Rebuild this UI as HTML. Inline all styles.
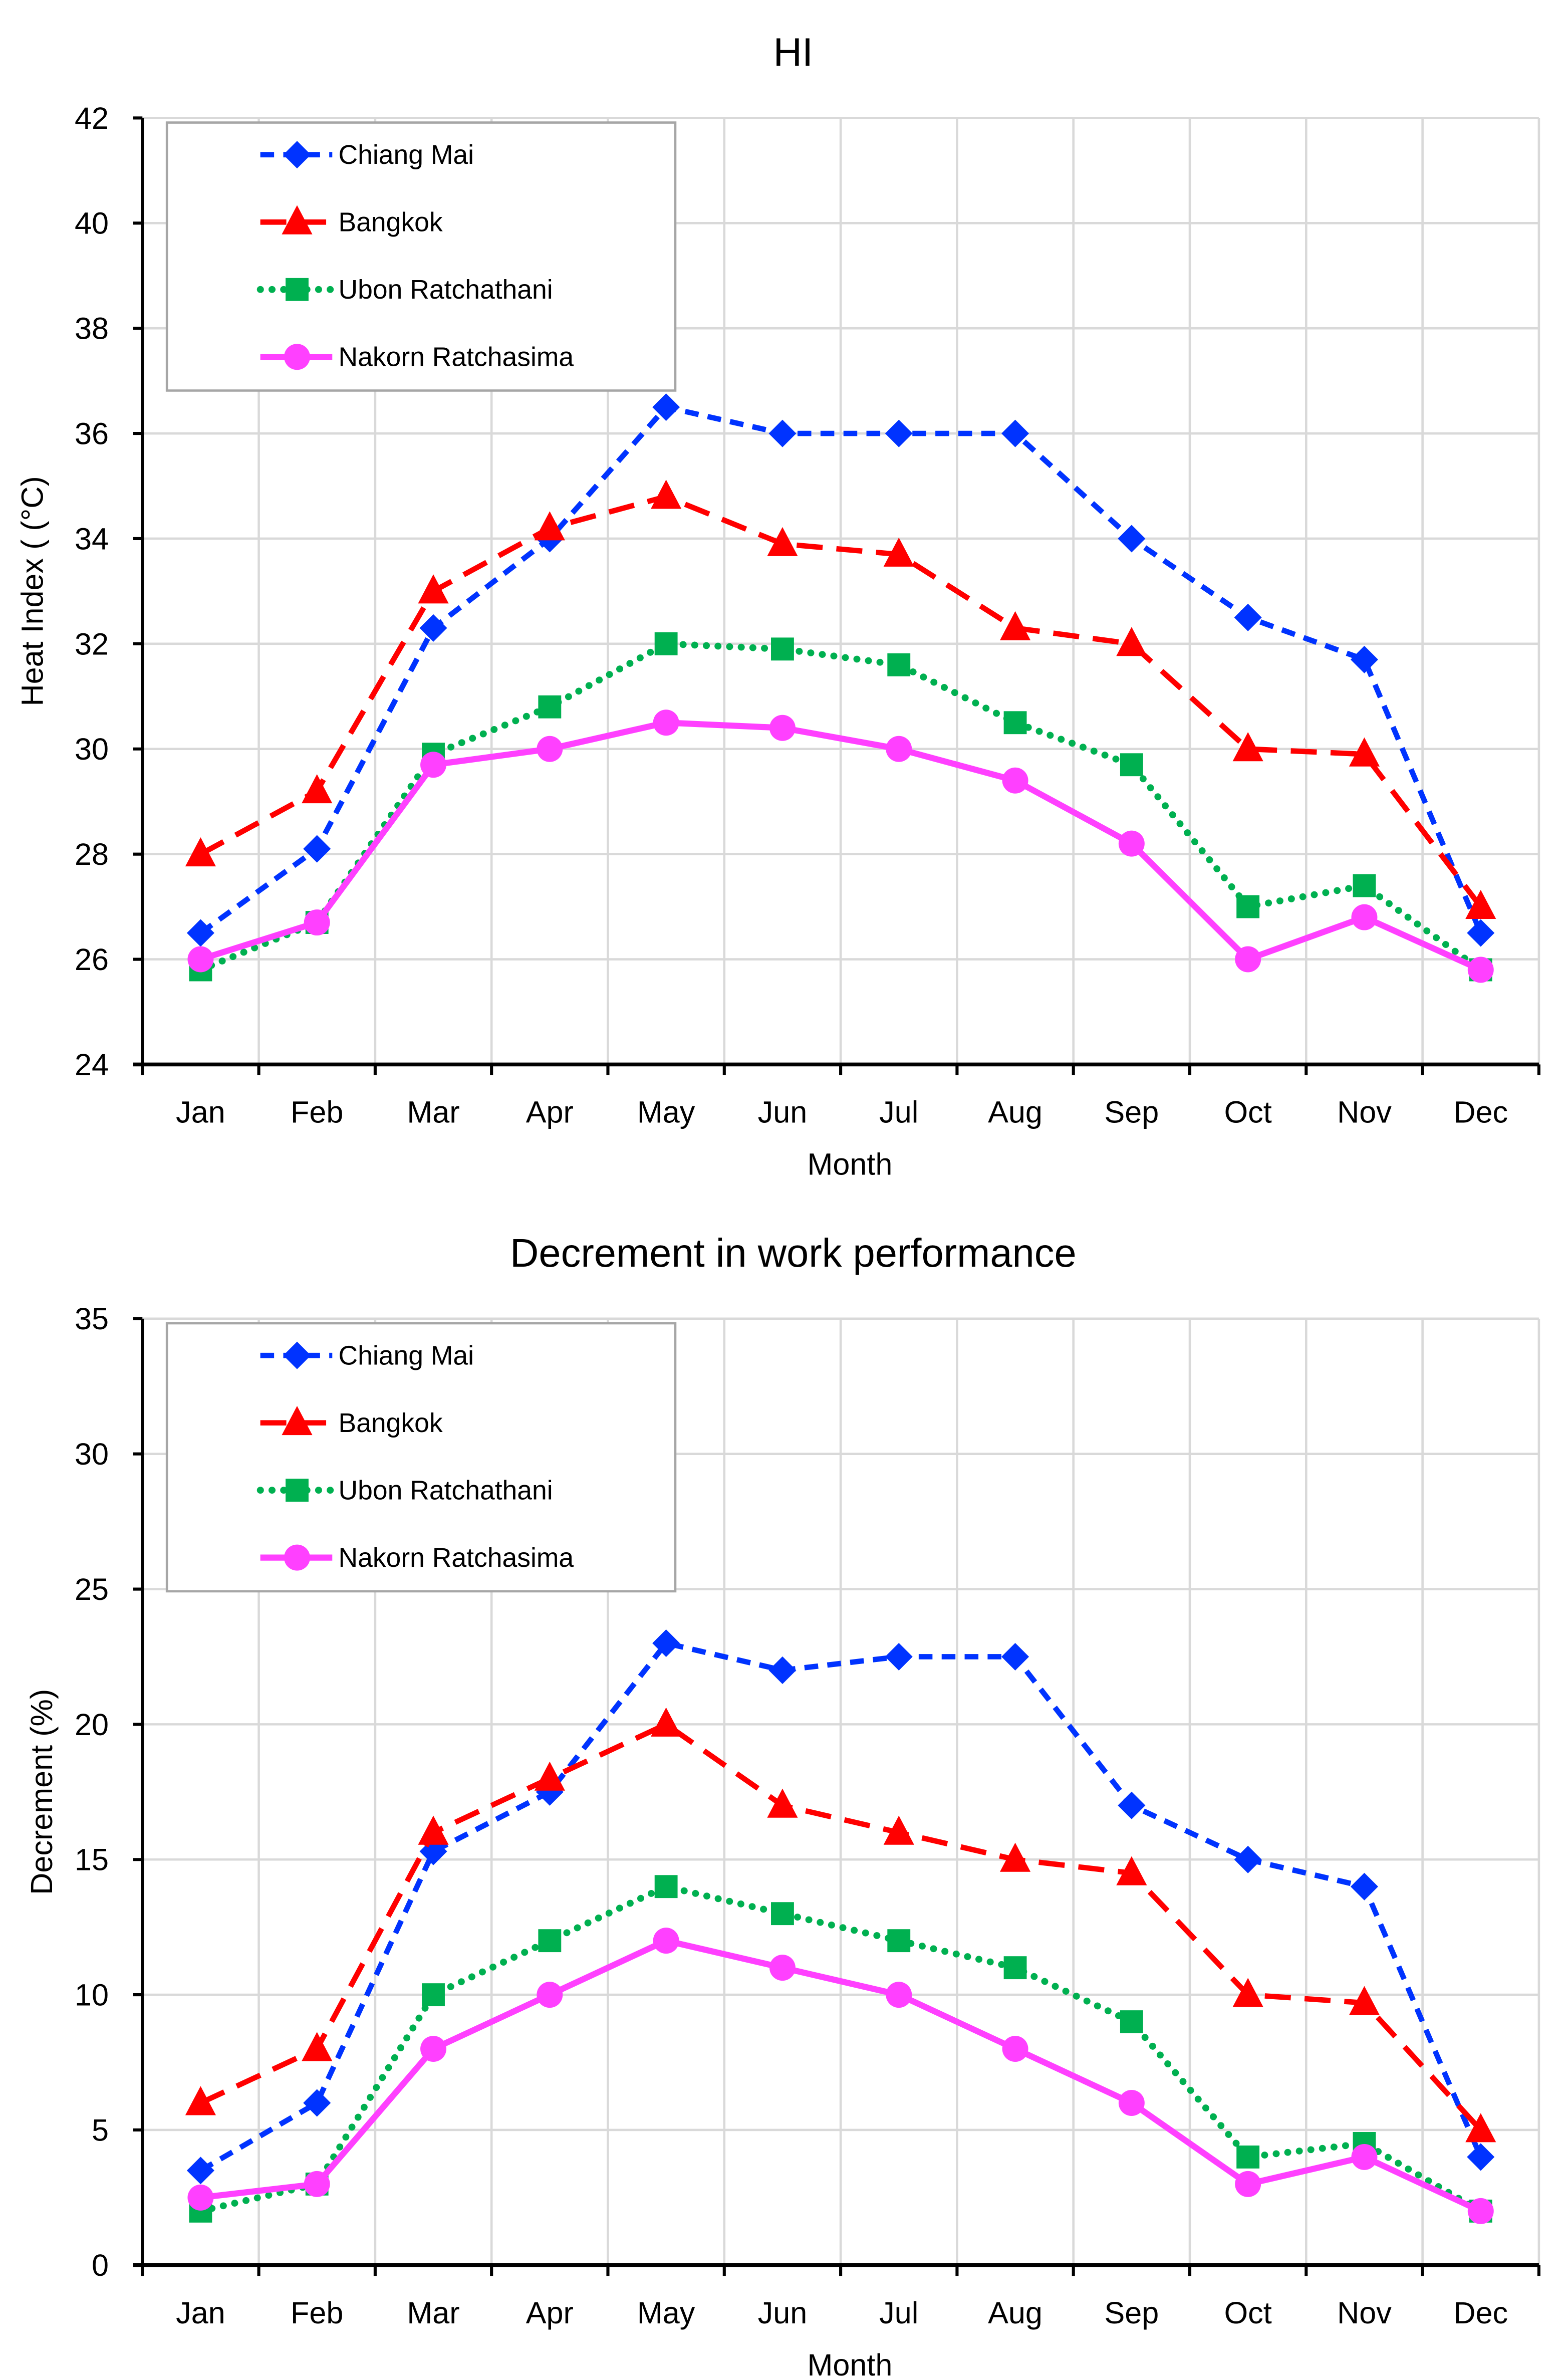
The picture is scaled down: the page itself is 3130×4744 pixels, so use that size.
<!DOCTYPE html>
<html><head><meta charset="utf-8"><style>
html,body{margin:0;padding:0;background:#fff}
svg{display:block}
text{font-family:"Liberation Sans",sans-serif;fill:#000}
</style></head><body>
<svg id="root" width="3130" height="4744" viewBox="0 0 1024 1552" xmlns="http://www.w3.org/2000/svg">
<rect width="1024" height="1552" fill="#fff"/>
</svg>
<script>
const months = ['Jan','Feb','Mar','Apr','May','Jun','Jul','Aug','Sep','Oct','Nov','Dec'];
const seriesNames = ['Chiang Mai','Bangkok','Ubon Ratchathani','Nakorn Ratchasima'];
const hiChiangMai = [26.5,28.1,32.3,34,36.5,36,36,36,34,32.5,31.7,26.5];
const hiBangkok = [28,29.2,33,34.2,34.8,33.9,33.7,32.3,32,30,29.9,27];
const hiUbon = [25.8,26.7,29.9,30.8,32,31.9,31.6,30.5,29.7,27,27.4,25.8];
const hiNakorn = [26,26.7,29.7,30,30.5,30.4,30,29.4,28.2,26,26.8,25.8];
const decChiangMai = [3.5,6,15.3,17.5,23,22,22.5,22.5,17,15,14,4];
const decBangkok = [6,8,16,18,20,17,16,15,14.5,10,9.7,5];
const decUbon = [2,3,10,12,14,13,12,11,9,4,4.5,2];
const decNakorn = [2.5,3,8,10,12,11,10,8,6,3,4,2];
const hiTicks = [24,26,28,30,32,34,36,38,40,42];
const decTicks = [0,5,10,15,20,25,30,35];

const NS='http://www.w3.org/2000/svg';
const root=document.getElementById('root');
function mk(tag,attrs,parent){const e=document.createElementNS(NS,tag);for(const k in attrs)e.setAttribute(k,attrs[k]);(parent||root).appendChild(e);return e;}

const styles=[
 {color:'#0033ff',dash:'9,6',cap:'butt',w:3.5,marker:'diamond'},
 {color:'#ff0000',dash:'17,9',cap:'butt',w:3.5,marker:'triangle'},
 {color:'#00b050',dash:'0.1,7.5',cap:'round',w:4.5,marker:'square'},
 {color:'#ff40ff',dash:'',cap:'butt',w:4,marker:'circle'}
];

function marker(g,type,x,y,color){
  let e;
  if(type==='diamond') e=mk('polygon',{points:`${x},${y-9} ${x+9},${y} ${x},${y+9} ${x-9},${y}`,fill:color},g);
  else if(type==='triangle') e=mk('polygon',{points:`${x},${y-11} ${x+10},${y+8} ${x-10},${y+8}`,fill:color},g);
  else if(type==='square') e=mk('rect',{x:x-7.5,y:y-7.5,width:15,height:15,fill:color},g);
  else e=mk('circle',{cx:x,cy:y,r:8.5,fill:color},g);
  return e;
}

function chart(cfg){
  const L=93,R=1005,T=cfg.top,B=cfg.bottom;
  const step=(R-L)/months.length;
  const xs=i=>L+step*(i+0.5);
  const ymin=cfg.ticks[0],ymax=cfg.ticks[cfg.ticks.length-1];
  const ys=v=>B-(v-ymin)/(ymax-ymin)*(B-T);
  const g=mk('g',{});
  
  
  cfg.ticks.forEach(t=>{ if(t!==ymin){const l=mk('line',{x1:L,x2:R,y1:ys(t),y2:ys(t),stroke:'#d9d9d9','stroke-width':1.5},g);
    
    }});
  for(let i=1;i<=months.length;i++){const x=L+step*i;const l=mk('line',{x1:x,x2:x,y1:T,y2:B,stroke:'#d9d9d9','stroke-width':1.5},g);
    
    }
  const ya=mk('line',{x1:L,x2:L,y1:T,y2:B,stroke:'#000','stroke-width':2},g);
  
  
  const xa=mk('line',{x1:L-6,x2:R,y1:B,y2:B,stroke:'#000','stroke-width':2.5},g);
  
  
  cfg.ticks.forEach(t=>{
    mk('line',{x1:L-6,x2:L,y1:ys(t),y2:ys(t),stroke:'#000','stroke-width':2},g);
    const tx=mk('text',{x:L-22,y:ys(t)+7,'text-anchor':'end','font-size':20},g);
    tx.textContent=t;
    
    
  });
  for(let i=0;i<=months.length;i++){const x=L+step*i;mk('line',{x1:x,x2:x,y1:B,y2:B+7,stroke:'#000','stroke-width':2},g);}
  months.forEach((m,i)=>{
    const tx=mk('text',{x:xs(i),y:B+38,'text-anchor':'middle','font-size':20},g);
    tx.textContent=m;
    
    
  });
  const xt=mk('text',{x:555,y:B+72,'text-anchor':'middle','font-size':20},g);
  xt.textContent='Month';
  
  
  const yt=mk('text',{x:0,y:0,'text-anchor':'middle','font-size':20,transform:`translate(${cfg.ylabX},${(T+B)/2}) rotate(-90)`},g);
  yt.textContent=cfg.ylabel;
  
  
  const tt=mk('text',{x:518,y:cfg.titleY,'text-anchor':'middle','font-size':26},g);
  tt.textContent=cfg.title;
  
  
  cfg.series.forEach((vals,si)=>{
    const s=styles[si];
    const sg=mk('g',{},g);
    
    
    const pts=vals.map((v,i)=>xs(i)+','+ys(v)).join(' ');
    const attrs={points:pts,fill:'none',stroke:s.color,'stroke-width':s.w,'stroke-linecap':s.cap,'stroke-linejoin':'round'};
    if(s.dash)attrs['stroke-dasharray']=s.dash;
    const pl=mk('polyline',attrs,sg);
    
    
    vals.forEach((v,i)=>{const m=marker(sg,s.marker,xs(i),ys(v),s.color);
      
      });
  });
  const lg=mk('g',{},g);
  
  
  const ly=cfg.legendTop;
  mk('rect',{x:109,y:ly,width:332,height:175,fill:'#fff',stroke:'#a6a6a6','stroke-width':1.5},lg);
  seriesNames.forEach((n,si)=>{
    const s=styles[si];const y=ly+21+si*44;
    const eg=mk('g',{},lg);
    
    
    const a={x1:170,x2:217,y1:y,y2:y,stroke:s.color,'stroke-width':s.w,'stroke-linecap':s.cap};
    if(s.dash)a['stroke-dasharray']=s.dash;
    mk('line',a,eg);
    marker(eg,s.marker,194,y,s.color);
    const t=mk('text',{x:221,y:y+6,'font-size':17.5},eg);
    t.textContent=n;
  });
}

chart({name:'hi-chart',top:77,bottom:695,ticks:hiTicks,title:'HI',titleY:43,ylabel:'Heat Index ( (°C)',ylabX:28,legendTop:80,
  series:[hiChiangMai,hiBangkok,hiUbon,hiNakorn]});
chart({name:'decrement-chart',top:861,bottom:1479,ticks:decTicks,title:'Decrement in work performance',titleY:827,ylabel:'Decrement (%)',ylabX:34,legendTop:864,
  series:[decChiangMai,decBangkok,decUbon,decNakorn]});
</script>
</body></html>
